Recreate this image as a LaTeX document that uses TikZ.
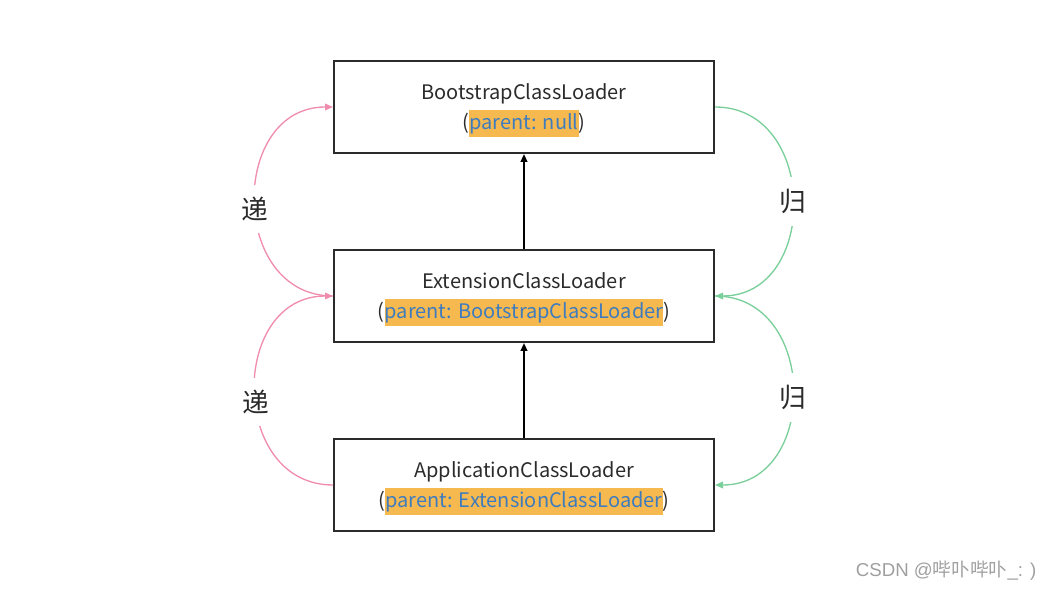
\documentclass[tikz,border=0pt]{standalone}
\usepackage{fontspec}
\setmainfont{Noto Sans CJK SC}
\newfontfamily\wmfont{Liberation Sans}
\newfontfamily\wmcjk{Noto Sans CJK SC}
\usetikzlibrary{arrows.meta}
\definecolor{hlor}{HTML}{F6B94F}
\definecolor{hlblue}{HTML}{3E7CBF}
\definecolor{txt}{HTML}{2B2B2B}
\definecolor{pinkc}{HTML}{F08CAE}
\definecolor{greenc}{HTML}{7ACF9A}
\newcommand{\hlpar}[1]{({\setlength\fboxsep{0pt}\colorbox{hlor}{\rule[-5.5pt]{0pt}{20pt}\color{hlblue}#1}})}
\tikzset{
  loader/.style={draw=txt, line width=1.5pt, minimum width=285pt, minimum height=69pt, inner sep=0pt,
    align=center, text=txt, font=\fontsize{15}{22.5}\selectfont},
  up/.style={-{Triangle[length=6pt,width=5pt]}, line width=1.4pt, draw=black},
  dipath/.style={draw=pinkc, line width=1pt, -{Triangle[length=6pt,width=5pt]}},
  guipath/.style={draw=greenc, line width=1pt, -{Triangle[length=6pt,width=5pt]}},
  lab/.style={fill=white, inner xsep=2pt, inner ysep=9pt, text=txt, font=\fontsize{20}{24}\selectfont},
}
\begin{document}
\begin{tikzpicture}[x=0.75pt,y=-0.75pt]
\useasboundingbox (0,0) rectangle (1050,591);
\node[loader] (boot) at (524,107) {\rule{0pt}{17pt}BootstrapClassLoader\\\hlpar{parent: null}};
\node[loader] (ext) at (524,296) {\rule{0pt}{17pt}ExtensionClassLoader\\\hlpar{parent: BootstrapClassLoader}};
\node[loader] (app) at (524,485) {\rule{0pt}{17pt}ApplicationClassLoader\\\hlpar{parent: ExtensionClassLoader}};
\draw[up] (ext.north) -- (boot.south);
\draw[up] (app.north) -- (ext.south);
\coordinate (bootL) at (boot.west);
\coordinate (extL) at (ext.west);
\coordinate (appL) at (app.west);
\coordinate (bootR) at (boot.east);
\coordinate (extR) at (ext.east);
\coordinate (appR) at (app.east);
\draw[dipath] (extL) .. controls ([xshift=-78pt]extL) and ([xshift=-78pt]bootL) .. node[lab, pos=0.475] (d1) {递} (bootL);
\draw[dipath] (appL) .. controls ([xshift=-78pt]appL) and ([xshift=-78pt]extL) .. node[lab, pos=0.46] (d2) {递} (extL);
\draw[guipath] (bootR) .. controls ([xshift=78pt]bootR) and ([xshift=78pt]extR) .. node[lab, pos=0.5] (g1) {归} (extR);
\draw[guipath] (extR) .. controls ([xshift=78pt]extR) and ([xshift=78pt]appR) .. node[lab, pos=0.525] (g2) {归} (appR);
\node[text=gray!75, font=\fontsize{14}{16}\selectfont, anchor=east] (wm) at (1041,571) {\wmfont CSDN @\wmcjk 哔卟哔卟\wmfont \_: )};
\end{tikzpicture}
\end{document}
